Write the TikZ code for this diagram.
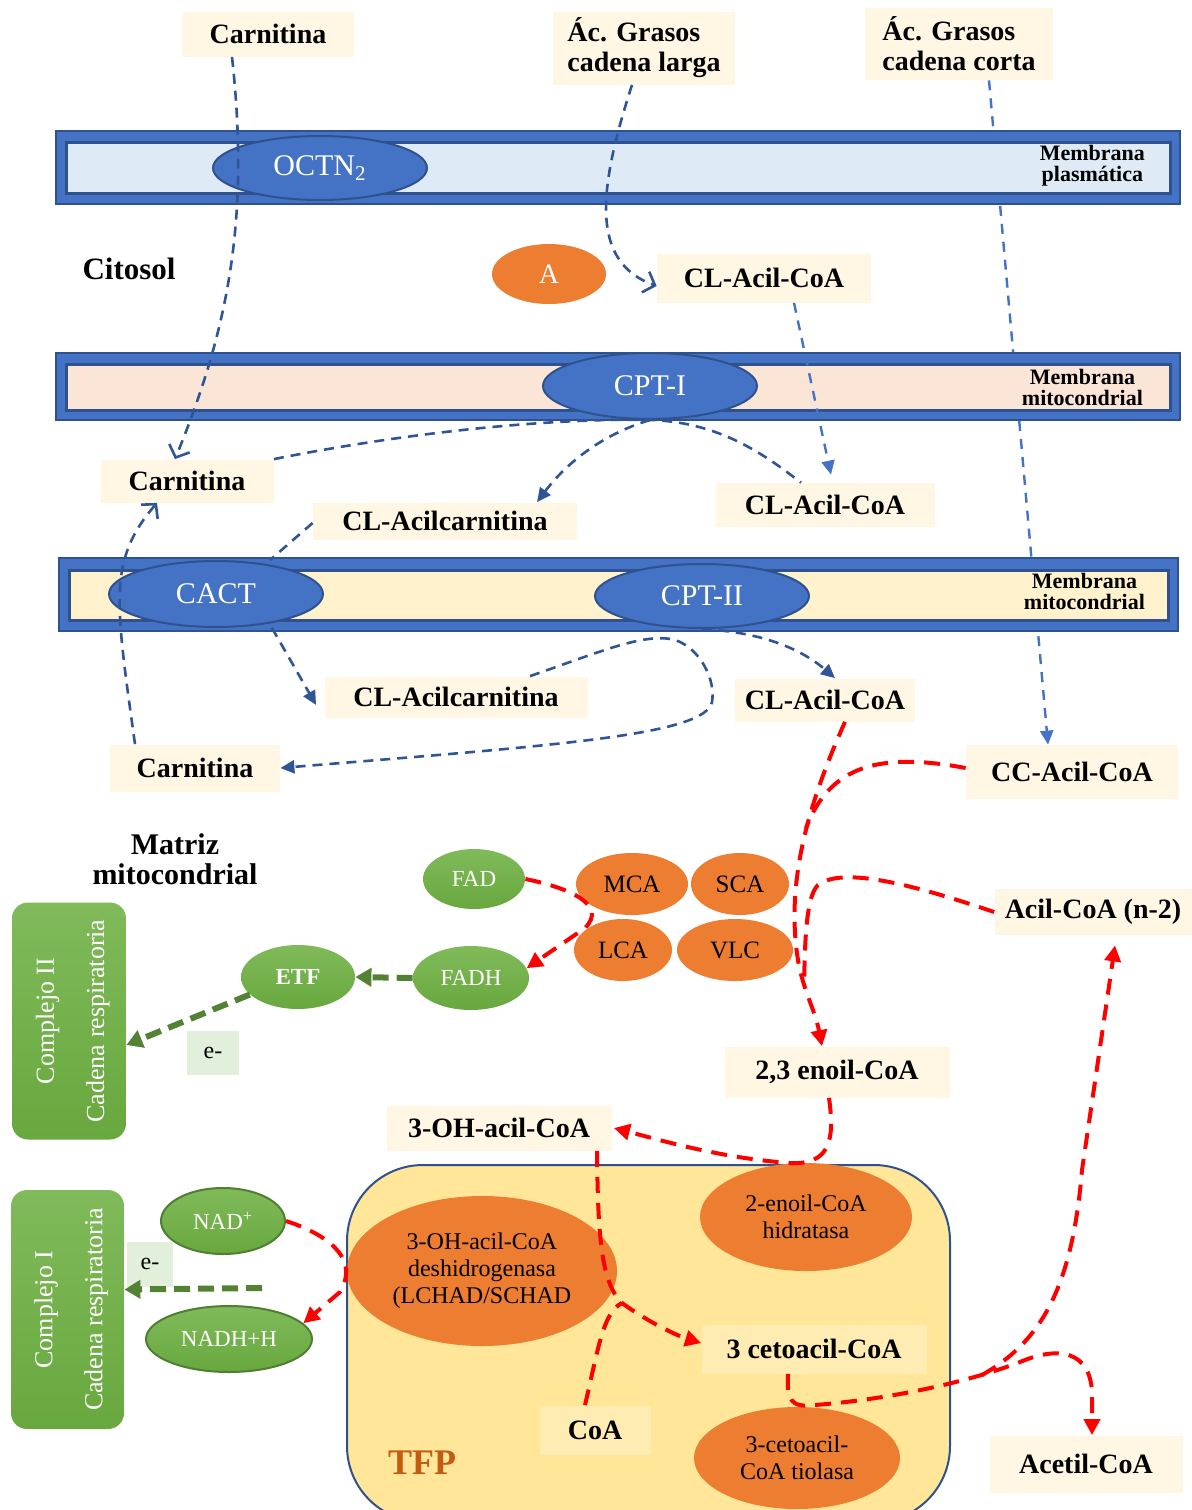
\documentclass[tikz,border=0pt]{standalone}
\usepackage{fontspec}
\setmainfont{Liberation Serif}
\usepackage{graphicx}
\usetikzlibrary{shapes.geometric,arrows.meta}

\definecolor{cream}{RGB}{255,247,228}
\definecolor{blueE}{RGB}{68,114,196}
\definecolor{blueD}{RGB}{47,82,143}
\definecolor{blueA}{RGB}{47,85,151}
\definecolor{memPl}{RGB}{222,235,247}
\definecolor{memMa}{RGB}{251,229,214}
\definecolor{memMb}{RGB}{255,242,204}
\definecolor{orangeE}{RGB}{237,125,49}
\definecolor{greenE}{RGB}{104,168,62}
\definecolor{greenL}{RGB}{128,186,90}
\definecolor{greenB}{RGB}{80,126,50}
\definecolor{greenA}{RGB}{84,130,53}
\definecolor{eBox}{RGB}{226,239,218}
\definecolor{tfpFill}{RGB}{255,230,153}
\definecolor{cetoBox}{RGB}{255,236,178}
\definecolor{tfpText}{RGB}{197,90,17}
\definecolor{redA}{RGB}{255,0,0}

\begin{document}
\begin{tikzpicture}[x=0.5pt, y=-0.5pt,
    box/.style={fill=cream, inner sep=0pt, align=left, font=\bfseries\fontsize{14}{15}\selectfont},
    enz/.style={ellipse, inner sep=0pt, fill=blueE, draw=blueD, line width=1pt, text=white, font=\fontsize{15}{17}\selectfont},
    acd/.style={ellipse, inner sep=0pt, fill=orangeE, font=\fontsize{12.5}{14}\selectfont},
    tfpenz/.style={ellipse, inner sep=0pt, fill=orangeE, align=center, font=\fontsize{12}{13.5}\selectfont},
    cof/.style={ellipse, inner sep=0pt, top color=greenL, bottom color=greenE, text=white, font=\fontsize{11.5}{13}\selectfont},
    cplx/.style={rectangle, rounded corners=8pt, inner sep=0pt, top color=greenL, bottom color=greenE, text=white, font=\fontsize{13}{25}\selectfont},
    ebox/.style={fill=eBox, inner sep=0pt, font=\fontsize{12}{14}\selectfont},
    memtxt/.style={anchor=east, align=center, font=\bfseries\fontsize{11}{10.5}\selectfont},
    memout/.style={fill=blueE, draw=blueD, line width=1pt},
    memin/.style={draw=blueD, line width=1.5pt},
    bdash/.style={draw=blueA, line width=1.3pt, dash pattern=on 5pt off 3.5pt},
    bdashL/.style={draw=blueE, line width=1.2pt, dash pattern=on 5pt off 4pt},
    rdash/.style={draw=redA, line width=2pt, dash pattern=on 8pt off 5pt},
    gdash/.style={draw=greenA, line width=3pt, dash pattern=on 8pt off 4pt},
    bTri/.style={-{Triangle[length=7pt,width=6.5pt]}},
    bOpen/.style={-{Straight Barb[length=5pt,width=11pt]}},
    rTri/.style={-{Triangle[length=8pt,width=8pt]}},
    gTri/.style={-{Triangle[length=8pt,width=9pt]}}]

    \useasboundingbox (0,0) rectangle (1192,1510);

    \begin{scope}
        \clip (0,0) rectangle (1192,1510);
        \draw[fill=tfpFill, draw=blueD, line width=1pt, rounded corners=38pt] (347,1165) rectangle (950,1522);
    \end{scope}

    \begin{scope}[every node/.style={box}]
        \node[minimum width=86pt, minimum height=22.5pt] (carnA) at (268,34) {Carnitina};
        \node[minimum width=91pt, minimum height=36.5pt] (acL) at (644,48) {Ác. Grasos\\cadena larga};
        \node[minimum width=94pt, minimum height=36pt] (acC) at (959,44) {Ác. Grasos\\cadena corta};
        \node[minimum width=107pt, minimum height=24.5pt] (clA) at (764,278) {CL-Acil-CoA};
        \node[minimum width=86.5pt, minimum height=21.5pt] (carnB) at (187,481) {Carnitina};
        \node[minimum width=109.5pt, minimum height=22pt] (clB) at (825,505) {CL-Acil-CoA};
        \node[minimum width=132pt, minimum height=18.5pt] (acB) at (445,521) {CL-Acilcarnitina};
        \node[minimum width=131.5pt, minimum height=20.5pt] (acCarnC) at (456,697) {CL-Acilcarnitina};
        \node[minimum width=90pt, minimum height=21.5pt] (clC) at (825,700) {CL-Acil-CoA};
        \node[minimum width=85pt, minimum height=23.5pt] (carnC) at (195,768) {Carnitina};
        \node[minimum width=106pt, minimum height=27pt] (ccA) at (1072,772) {CC-Acil-CoA};
        \node[minimum width=98.5pt, minimum height=23pt] (acn2) at (1093,912) {Acil-CoA (n-2)};
        \node[minimum width=112.5pt, minimum height=25.5pt] (enoil) at (837,1072) {2,3 enoil-CoA};
        \node[minimum width=112.5pt, minimum height=22.5pt] (ohA) at (499,1128) {3-OH-acil-CoA};
        \node[minimum width=112.5pt, minimum height=24.5pt, fill=cetoBox] (ceto) at (814,1349) {3 cetoacil-CoA};
        \node[minimum width=55.5pt, minimum height=24.5pt, fill=cetoBox] (coaN) at (595,1430) {CoA};
        \node[minimum width=96.5pt, minimum height=28.5pt] (acet) at (1086,1464) {Acetil-CoA};
    \end{scope}

    \draw[bdashL, bTri] ([xshift=15pt]acC.south) -- ([xshift=-12pt]ccA.north);

    \draw[memout] (56,131) rectangle (1180,204);
    \draw[memin, fill=memPl] (66,142) rectangle (1170,193);
    \draw[memout] (56,353) rectangle (1180,420);
    \draw[memin, fill=memMa] (66,364) rectangle (1170,410);
    \draw[memout] (59,558) rectangle (1178,631);
    \draw[memin, fill=memMb] (69,570) rectangle (1168,620);

    \node[memtxt] (memP) at (1152,166) {Membrana\\plasmática};
    \node[memtxt] (memA) at (1150,387) {Membrana\\mitocondrial};
    \node[memtxt] (memB) at (1152,591) {Membrana\\mitocondrial};

    \begin{scope}[every node/.style={enz}]
        \node[minimum width=107pt, minimum height=32pt] (octn) at (320,168) {OCTN\textsubscript{2}};
        \node[minimum width=107pt, minimum height=33pt] (cpt1) at (650,386) {CPT-I};
        \node[minimum width=107pt, minimum height=33pt] (cact) at (216,594) {CACT};
        \node[minimum width=107pt, minimum height=32pt] (cpt2) at (702,596) {CPT-II};
    \end{scope}

    \node[acd, minimum width=57pt, minimum height=30pt, text=white, font=\fontsize{14}{16}\selectfont] (aN) at (549,274) {A};
    \node[font=\bfseries\fontsize{15.5}{17}\selectfont] (cito) at (129,269) {Citosol};
    \node[align=center, font=\bfseries\fontsize{15}{15}\selectfont] (matriz) at (175,859) {Matriz\\mitocondrial};

    \begin{scope}[every node/.style={acd}]
        \node[minimum width=56pt, minimum height=31pt] (mca) at (632,884) {MCA};
        \node[minimum width=49pt, minimum height=31pt] (sca) at (740,884) {SCA};
        \node[minimum width=49pt, minimum height=31pt] (lca) at (623,950) {LCA};
        \node[minimum width=58pt, minimum height=31pt] (vlc) at (735,950) {VLC};
    \end{scope}

    \begin{scope}[every node/.style={cof}]
        \node[minimum width=51pt, minimum height=30pt] (fad) at (474,879) {FAD};
        \node[minimum width=57pt, minimum height=32pt, font=\bfseries\fontsize{11.5}{13}\selectfont] (etf) at (298,977) {ETF};
        \node[minimum width=58pt, minimum height=32pt] (fadh) at (471,978) {FADH};
        \node[minimum width=62pt, minimum height=33pt, draw=greenB, line width=1pt] (nad) at (223,1221) {NAD\textsuperscript{+}};
        \node[minimum width=83pt, minimum height=33pt, draw=greenB, line width=1pt] (nadh) at (229,1339) {NADH+H};
    \end{scope}

    \node[cplx, minimum width=57pt, minimum height=118.5pt] (comp2) at (69,1021)
        {\rotatebox{90}{\begin{tabular}{@{}c@{}}Complejo II\\Cadena respiratoria\end{tabular}}};
    \node[cplx, minimum width=56.5pt, minimum height=119.5pt] (comp1) at (67.5,1309.5)
        {\rotatebox{90}{\begin{tabular}{@{}c@{}}Complejo I\\Cadena respiratoria\end{tabular}}};
    \node[ebox, minimum width=26pt, minimum height=22pt] (eA) at (213,1053) {e-};
    \node[ebox, minimum width=23pt, minimum height=22.5pt] (eB) at (150,1264) {e-};

    \begin{scope}[every node/.style={tfpenz}]
        \node[minimum width=106pt, minimum height=54pt] (hidr) at (806,1217) {2-enoil-CoA\\hidratasa};
        \node[minimum width=135pt, minimum height=75pt] (deshid) at (482,1271) {3-OH-acil-CoA\\deshidrogenasa\\(LCHAD/SCHAD};
        \node[minimum width=103pt, minimum height=51pt] (tiol) at (797,1458) {3-cetoacil-\\CoA tiolasa};
    \end{scope}
    \node[text=tfpText, font=\bfseries\fontsize{18}{20}\selectfont] (tfp) at (422,1463) {TFP};

    \draw[bdash, bOpen] ([xshift=-18pt]carnA.south) .. controls (250,220) and (228,330) .. ([xshift=-6pt]carnB.north);
    \draw[bdash, bOpen] ([xshift=-6pt]acL.south) .. controls (598,190) and (590,262) .. ([yshift=-4pt]clA.west);
    \draw[bdashL, bTri] ([xshift=15pt]clA.south) -- ([xshift=3pt,yshift=4pt]clB.north);
    \draw[bdash] (carnB.north east) .. controls (420,430) and (560,418) .. (cpt1.south)
        .. controls (720,422) and (765,455) .. ([xshift=-12pt]clB.north);
    \draw[bdash, bTri] (cpt1.south) .. controls (600,435) and (565,465) .. ([xshift=46pt]acB.north);
    \draw[bdash] ([yshift=-1pt]acB.west) -- ([xshift=27pt]cact.north);
    \draw[bdash, bTri] ([xshift=28pt]cact.south) -- ([xshift=-4pt,yshift=-4pt]acCarnC.west);
    \draw[bdash, bOpen] ([xshift=-30pt]carnC.north) .. controls (115,600) and (108,560) .. ([xshift=-15pt]carnB.south);
    \draw[bdash, bTri] ([xshift=37pt]acCarnC.north) .. controls (600,652) and (645,632) .. (675,640)
        .. controls (700,648) and (716,680) .. (712,702)
        .. controls (705,735) and (560,745) .. (carnC.east);
    \draw[bdash, bTri] (cpt2.south) .. controls (760,632) and (800,648) .. ([xshift=5pt]clC.north);

    \coordinate (jCC) at (806,828);
    \coordinate (jN) at (804,985);
    \coordinate (jCoA) at (622,1303);
    \coordinate (jK) at (982,1375);
    \coordinate (nadOut) at (262,1288);

    \draw[rdash, rTri] ([xshift=10pt]clC.south) .. controls (810,800) and (785,880) .. (798,960)
        .. controls (803,990) and (815,1010) .. ([xshift=-7.5pt]enoil.north);
    \draw[rdash] ([yshift=2pt]ccA.west) .. controls (880,752) and (830,765) .. (jCC);
    \draw[rdash] (acn2.west) .. controls (900,880) and (840,868) .. (818,885)
        .. controls (805,897) and (805,950) .. (jN);
    \draw[rdash, rTri] ([xshift=-4pt]enoil.south) .. controls (835,1140) and (830,1165) .. (790,1163)
        .. controls (720,1158) and (660,1140) .. ([xshift=1pt]ohA.east);
    \draw[rdash, rTri] ([xshift=49pt]ohA.south) .. controls (598,1230) and (600,1282) .. (jCoA)
        .. controls (648,1322) and (678,1336) .. ([yshift=3pt]ceto.west);
    \draw[rdash] ([xshift=-5pt]coaN.north) .. controls (598,1350) and (603,1312) .. (jCoA);
    \draw[rdash, rTri] ([xshift=-13pt]ceto.south) .. controls (787,1400) and (790,1408) .. (815,1405)
        .. controls (880,1400) and (960,1385) .. (1020,1362)
        .. controls (1060,1345) and (1090,1352) .. (1092,1392) -- ([xshift=3pt]acet.north);
    \draw[rdash, rTri] (jK) .. controls (1040,1342) and (1072,1290) .. (1082,1170) -- ([xshift=11pt,yshift=-5pt]acn2.south);
    \draw[rdash, rTri] (nad.east) .. controls (320,1232) and (362,1255) .. (340,1292) -- (nadh.12);
    \draw[rdash, rTri] (fad.east) .. controls (570,888) and (608,905) .. (585,928) -- (fadh.10);

    \draw[gdash, gTri] (fadh.west) -- (etf.east);
    \draw[gdash, gTri] (etf.200) -- ([yshift=-12pt]comp2.east);
    \draw[gdash, gTri] (nadOut) -- ([yshift=10pt]comp1.east);
\end{tikzpicture}
\end{document}
